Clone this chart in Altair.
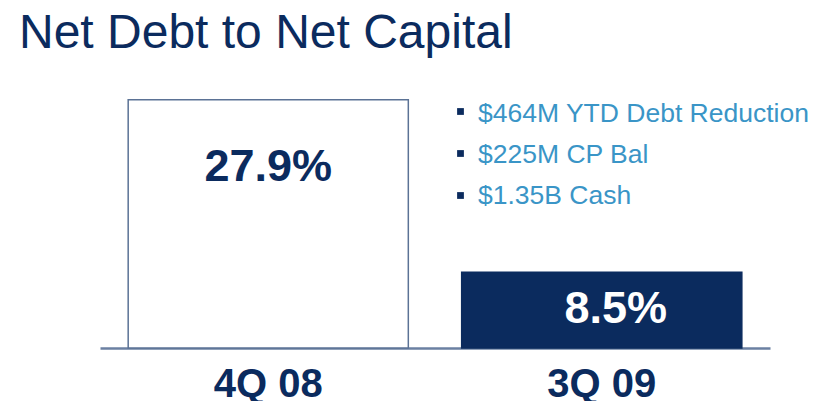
import altair as alt
import pandas as pd

# ---- data ----
categories = ["4Q 08", "3Q 09"]
values = [27.9, 8.5]
bullets = ["$464M YTD Debt Reduction", "$225M CP Bal", "$1.35B Cash"]
title_text = ["Net Debt to Net Capital"]

NAVY = "#0b2b5e"
LIGHT = "#3a95c7"
EDGE = "#5b7295"
AXIS = "#6b80a2"
FONT = "Liberation Sans"

df = pd.DataFrame({
    "cat": categories,
    "value": values,
    "label": [f"{v}%" for v in values],
})

x = alt.X("cat:N", sort=categories, title=None,
          scale=alt.Scale(paddingInner=0.16, paddingOuter=0.0845),
          axis=alt.Axis(labelAngle=0, ticks=False, tickSize=0, domainColor=AXIS,
                        domainWidth=2.5, labelFont=FONT, labelFontSize=40,
                        labelFontWeight="bold", labelColor=NAVY,
                        labelBaseline="alphabetic", labelPadding=48, grid=False))
y = alt.Y("value:Q", title=None, axis=None,
          scale=alt.Scale(domain=[0, 30], nice=False, zero=True))

base = alt.Chart(df)

bars = base.mark_bar(strokeWidth=1.5).encode(
    x=x, y=y,
    fill=alt.Fill("cat:N", sort=categories, legend=None,
                  scale=alt.Scale(domain=categories, range=["#ffffff", NAVY])),
    stroke=alt.Stroke("cat:N", sort=categories, legend=None,
                      scale=alt.Scale(domain=categories, range=[EDGE, NAVY])),
)

lab1 = base.transform_filter(alt.datum.cat == categories[0]).mark_text(
    font=FONT, fontSize=45, fontWeight="bold", color=NAVY,
    baseline="alphabetic", align="center", dy=81
).encode(x=alt.X("cat:N", sort=categories), y=alt.Y("value:Q"), text="label:N")

lab2 = base.transform_filter(alt.datum.cat == categories[1]).mark_text(
    font=FONT, fontSize=45, fontWeight="bold", color="#ffffff",
    baseline="alphabetic", align="center", dy=51, dx=14
).encode(x=alt.X("cat:N", sort=categories), y=alt.Y("value:Q"), text="label:N")

title = alt.Chart(pd.DataFrame({"t": title_text})).mark_text(
    font=FONT, fontSize=48, color=NAVY, align="left", baseline="alphabetic"
).encode(x=alt.value(-81), y=alt.value(-33), text="t:N")

layers = [bars, lab1, lab2, title]

bdf = pd.DataFrame({"t": bullets})
for i, t in enumerate(bullets):
    row = alt.Chart(bdf).transform_filter(alt.datum.t == t)
    layers.append(row.mark_text(
        font=FONT, fontSize=26.5, color=LIGHT, align="left", baseline="alphabetic"
    ).encode(x=alt.value(378), y=alt.value(41 + 41 * i), text="t:N"))
    layers.append(row.mark_square(size=46, color=NAVY, opacity=1).encode(
        x=alt.value(360.5), y=alt.value(30.5 + 42 * i)))

chart = alt.layer(*layers).properties(
    width=670, height=267,
    autosize=alt.AutoSizeParams(type="none"),
    padding={"left": 92, "top": 73, "right": 40, "bottom": 53},
    background="#ffffff",
).configure_view(strokeWidth=0)

chart.save("out.html", embed_options={"renderer": "svg", "actions": False})
